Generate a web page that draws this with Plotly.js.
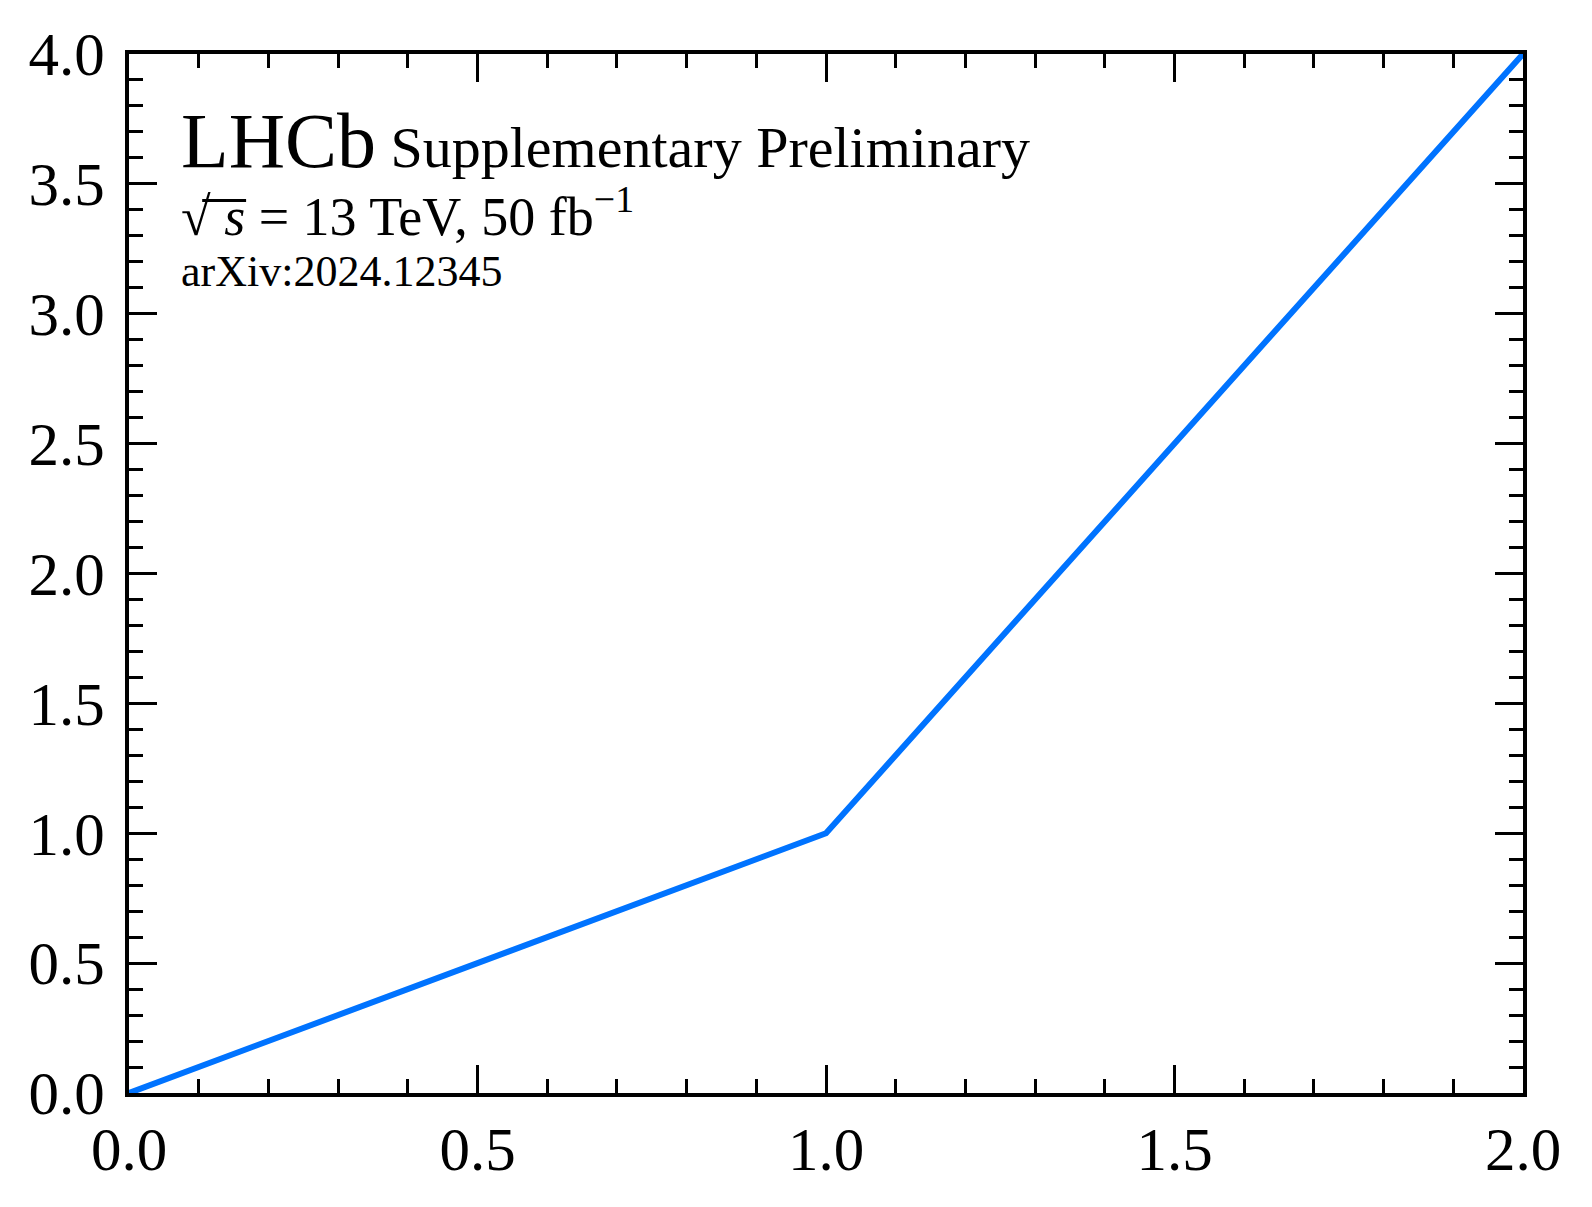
<!DOCTYPE html>
<html>
<head>
<meta charset="utf-8">
<script src="https://cdn.plot.ly/plotly-3.0.1.min.js"></script>
<style>
  body { margin: 0; background: #fff; }
  #plot { width: 1592px; height: 1207px; }
</style>
</head>
<body>
<div id="plot"></div>
<script>
// curve values
var xVals = [0, 1, 2];
var yVals = [0, 1, 4];

var serif = "Liberation Serif, Times New Roman, serif";

var data = [
  {
    type: "scatter",
    mode: "lines",
    x: xVals,
    y: yVals,
    line: { color: "#0073ff", width: 6 },
    hoverinfo: "skip"
  }
];

var axisCommon = {
  showgrid: false,
  zeroline: false,
  showline: true,
  linecolor: "#000",
  linewidth: 4,
  mirror: "allticks",
  ticks: "inside",
  ticklen: 28,
  tickwidth: 3,
  tickcolor: "#000",
  dtick: 0.5,
  tick0: 0,
  tickformat: ".1f",
  tickfont: { family: serif, size: 61, color: "#000" },
  minor: { ticks: "inside", dtick: 0.1, ticklen: 14, tickwidth: 3, tickcolor: "#000" }
};

var layout = {
  width: 1592, height: 1207,
  margin: { l: 129, r: 69, t: 54, b: 114 },
  paper_bgcolor: "#fff",
  plot_bgcolor: "#fff",
  showlegend: false,
  xaxis: Object.assign({}, axisCommon, { range: [0, 2], ticklabelstandoff: 0 }),
  yaxis: Object.assign({}, axisCommon, { range: [0, 4], ticklabelstandoff: 8 }),
  annotations: [
    {
      xref: "paper", yref: "paper", x: 0.036, y: 0.917,
      xanchor: "left", yanchor: "middle", showarrow: false,
      text: "<span style='font-size:78px'>LHCb</span> Supplementary Preliminary",
      font: { family: serif, size: 58, color: "#000" }
    },
    {
      xref: "paper", yref: "paper", x: 0.036, y: 0.847,
      xanchor: "left", yanchor: "middle", showarrow: false,
      text: "√ <i>s</i> = 13 TeV, 50 fb<sup>−1</sup>",
      font: { family: serif, size: 54, color: "#000" }
    },
    {
      xref: "paper", yref: "paper", x: 0.036, y: 0.791,
      xanchor: "left", yanchor: "middle", showarrow: false,
      text: "arXiv:2024.12345",
      font: { family: serif, size: 44, color: "#000" }
    }
  ],
  // bar of the square-root sign over s
  shapes: [
    {
      type: "line", xref: "paper", yref: "paper",
      x0: 0.0525, x1: 0.084, y0: 0.859, y1: 0.859,
      line: { color: "#000", width: 3 }
    }
  ]
};

Plotly.newPlot("plot", data, layout, { displayModeBar: false, staticPlot: true });
</script>
</body>
</html>
